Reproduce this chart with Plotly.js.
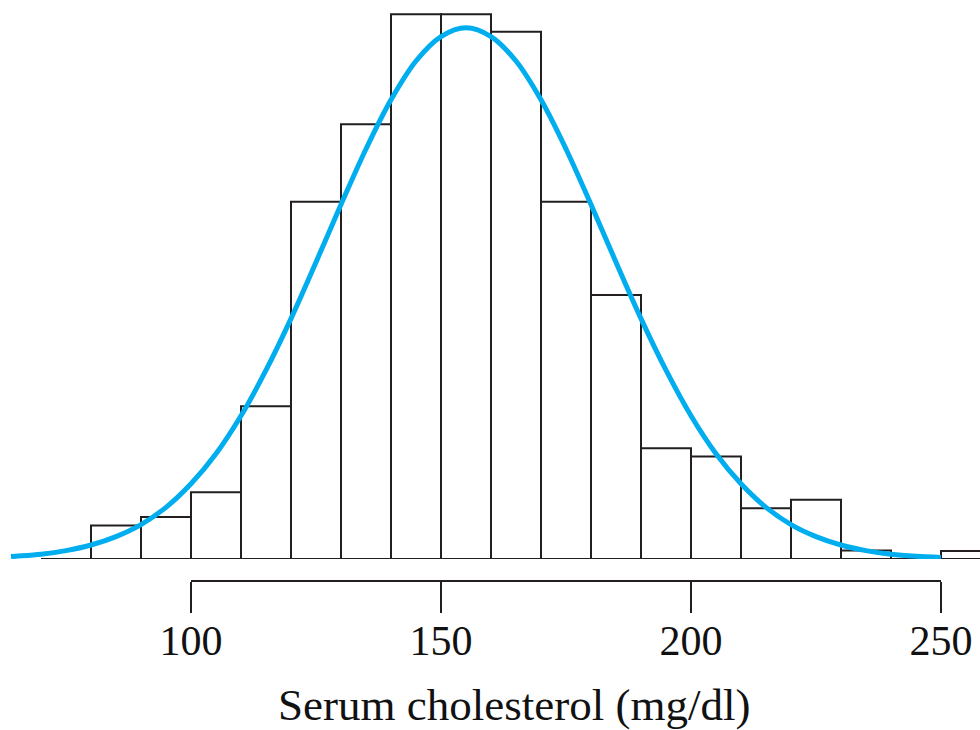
<!DOCTYPE html>
<html>
<head>
<meta charset="utf-8">
<script src="https://cdn.plot.ly/plotly-3.0.1.min.js"></script>
<style>
  html, body { margin: 0; padding: 0; background: #ffffff; }
  #chart { width: 980px; height: 730px; }
</style>
</head>
<body>
<div id="chart"></div>
<script>
// Histogram bins (mg/dl): left edges and bar heights (relative frequency units)
const binStarts = [80, 90, 100, 110, 120, 130, 140, 150, 160, 170, 180, 190, 200, 210, 220, 230, 240, 250];
const binCounts = [8.4, 10.5, 16.7, 38.2, 89.3, 108.7, 136.2, 136.2, 131.8, 89.3, 66.0, 27.7, 25.6, 12.7, 14.8, 2.1, 0, 2.0];
const binWidth = 10;

// Fitted normal curve
const curveX = [64, 65, 70, 75, 80, 85, 90, 95, 100, 105, 110, 115, 120, 125, 130, 135, 140, 145, 150, 155,
                160, 165, 170, 175, 180, 185, 190, 195, 200, 205, 210, 215, 220, 225, 230, 235, 240, 245, 250];
const curveY = [0.6, 0.7, 1.2, 2.1, 3.5, 5.6, 8.6, 12.9, 18.8, 26.3, 35.8, 47.2, 60.1, 74.2, 88.6, 102.5, 114.8, 124.5, 130.6, 132.8,
                130.6, 124.5, 114.8, 102.5, 88.6, 74.2, 60.1, 47.2, 35.8, 26.3, 18.8, 12.9, 8.6, 5.6, 3.5, 2.1, 1.2, 0.7, 0.4];

// Axis ticks
const tickVals = [100, 150, 200, 250];
const tickText = ['100', '150', '200', '250'];
const xTitle = 'Serum cholesterol (mg/dl)';
const baselineFrom = 70, baselineTo = 260;

const ink = '#231f20';
const blue = '#00aeef';
const serif = '"Liberation Serif", "DejaVu Serif", serif';

const barCenters = binStarts.map(s => s + binWidth / 2);

const traces = [
  {
    type: 'bar',
    x: barCenters,
    y: binCounts,
    width: binWidth,
    marker: { color: '#ffffff', line: { color: ink, width: 2 } },
    hoverinfo: 'x+y',
    xaxis: 'x', yaxis: 'y'
  },
  {
    type: 'scatter',
    mode: 'lines',
    x: curveX,
    y: curveY,
    line: { color: blue, width: 5, shape: 'spline', smoothing: 1 },
    hoverinfo: 'skip',
    xaxis: 'x', yaxis: 'y'
  },
  {
    // invisible carrier so the labelled scale axis (x2) is drawn
    type: 'scatter',
    mode: 'markers',
    x: tickVals,
    y: tickVals.map(() => 0),
    marker: { opacity: 0, size: 1 },
    hoverinfo: 'skip',
    xaxis: 'x2', yaxis: 'y'
  }
];

const layout = {
  width: 980, height: 730,
  margin: { l: 0, r: 0, t: 0, b: 0, pad: 0 },
  paper_bgcolor: '#ffffff',
  plot_bgcolor: 'rgba(0,0,0,0)',
  showlegend: false,
  bargap: 0,
  font: { family: serif, color: '#111111' },
  xaxis: {
    domain: [0, 1],
    range: [61.8, 257.8],
    visible: false,
    fixedrange: true
  },
  yaxis: {
    domain: [171 / 730, 1],
    range: [0, 559 / 4],
    visible: false,
    fixedrange: true
  },
  xaxis2: {
    domain: [191 / 980, 941 / 980],
    range: [100, 250],
    anchor: 'free',
    position: 149 / 730,
    side: 'bottom',
    showline: true,
    linecolor: ink,
    linewidth: 2,
    showgrid: false,
    zeroline: false,
    ticks: 'outside',
    ticklen: 31,
    tickwidth: 2,
    tickcolor: ink,
    tickmode: 'array',
    tickvals: tickVals,
    ticktext: tickText,
    ticklabelstandoff: -8,
    tickfont: { size: 42, family: serif, color: '#111111' },
    fixedrange: true
  },
  annotations: [
    {
      text: xTitle,
      xref: 'paper', yref: 'paper',
      x: 514 / 980, y: 25 / 730,
      xanchor: 'center', yanchor: 'middle',
      showarrow: false,
      font: { size: 45, family: serif, color: '#111111' }
    }
  ],
  shapes: [
    {
      type: 'line', xref: 'x', yref: 'y',
      x0: baselineFrom, x1: baselineTo, y0: 0, y1: 0,
      line: { color: ink, width: 2 },
      layer: 'below'
    }
  ]
};

Plotly.newPlot('chart', traces, layout, { displayModeBar: false, staticPlot: true });
</script>
</body>
</html>
